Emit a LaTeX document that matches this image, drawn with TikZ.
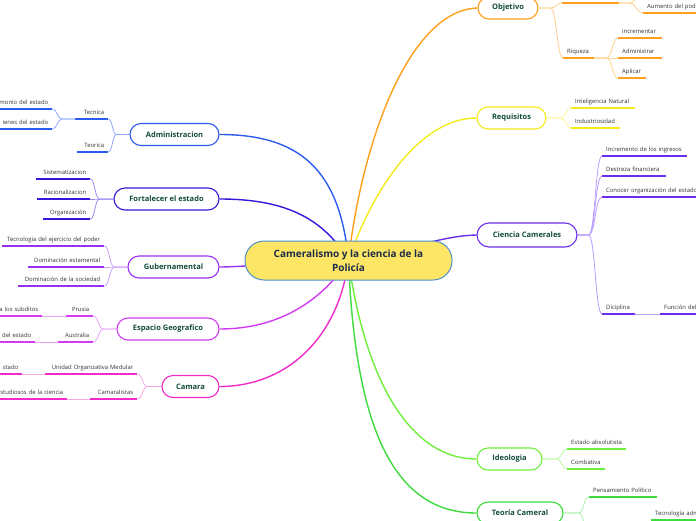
\documentclass[tikz,border=0pt]{standalone}
\usepackage{fontspec}
\setmainfont{Open Sans}
\usetikzlibrary{calc}
\pgfdeclarelayer{bg}
\pgfsetlayers{bg,main}
\definecolor{orng}{HTML}{FF9F1C}\definecolor{orngL}{HTML}{FFD08A}
\definecolor{yllw}{HTML}{F5EA1A}\definecolor{yllwL}{HTML}{FFF59A}
\definecolor{cienc}{HTML}{6B2EEB}\definecolor{ciencL}{HTML}{B89CFF}
\definecolor{admc}{HTML}{2C5BF0}\definecolor{admcL}{HTML}{8FA8FF}
\definecolor{fortc}{HTML}{3A14D8}\definecolor{fortcL}{HTML}{9D8CF0}
\definecolor{gubc}{HTML}{9A30F0}\definecolor{gubcL}{HTML}{CFA0FA}
\definecolor{espc}{HTML}{D13BF0}\definecolor{espcL}{HTML}{EBA5F8}
\definecolor{camc}{HTML}{F02BC8}\definecolor{camcL}{HTML}{F8A8E6}
\definecolor{ideo}{HTML}{6CF03C}\definecolor{ideoL}{HTML}{B8F8A0}
\definecolor{teor}{HTML}{3CDC3C}\definecolor{teorL}{HTML}{A8EEA8}
\definecolor{cborder}{HTML}{4E8FCB}\definecolor{cfill}{HTML}{FDE566}
\definecolor{tgreen}{HTML}{124B3B}\definecolor{ctext}{HTML}{1C2B4A}
\definecolor{leafgray}{HTML}{333333}
\tikzset{
  topic/.style={draw, line width=1.1pt, fill=white, rounded corners=11pt, minimum height=22pt,
    inner sep=0pt, font=\bfseries\fontsize{7.5}{8.5}\selectfont, text=tgreen},
  leaf/.style={font=\fontsize{5.9}{7}\selectfont, text=leafgray, inner xsep=4pt, inner ysep=1pt,
    text height=4.7pt, text depth=3pt},
  ul/.style={line width=1.3pt},
  mainconn/.style={line width=1.4pt},
  subconn/.style={line width=0.8pt},
  elbow/.style={to path={let \p1=(\tikztostart),\p2=(\tikztotarget) in
    .. controls ({(\x1+\x2)/2},\y1) and ({(\x1+\x2)/2},\y2) .. (\tikztotarget)}}
}
\newcommand\lf[7]{%
  \node[leaf, text width=(#3)-(#2)-8, align=#6, anchor=south west] (#1) at (#2,#4) {#7};
  \begin{pgfonlayer}{bg}\draw[ul, draw=#5] (#1.south west) -- (#1.south east);\end{pgfonlayer}}
\begin{document}
\begin{tikzpicture}[x=1pt,y=-1pt]
\useasboundingbox (0,0) rectangle (696,520);
% central
\node[draw=cborder, fill=cfill, line width=1pt, rounded corners=19pt, minimum width=207pt,
  minimum height=39pt, align=center, font=\bfseries\fontsize{10}{14}\selectfont, text=ctext]
  (C) at (348.5,260.5) {Cameralismo y la ciencia de la\\Policía};
% topics
\node[topic, draw=orng, minimum width=60pt] (obj) at (508,8) {Objetivo};
\node[topic, draw=yllw, minimum width=69pt] (req) at (511.5,118) {Requisitos};
\node[topic, draw=cienc, minimum width=100pt, minimum height=24pt, rounded corners=12pt] (cc) at (527,235) {Ciencia Camerales};
\node[topic, draw=ideo, minimum width=65pt] (ideol) at (509.5,459) {Ideologia};
\node[topic, draw=teor, minimum width=86pt] (teo) at (520,513) {Teoría Cameral};
\node[topic, draw=admc, minimum width=89pt] (adm) at (174.5,134.5) {Administracion};
\node[topic, draw=fortc, minimum width=105pt] (fort) at (166.5,199) {Fortalecer el estado};
\node[topic, draw=gubc, minimum width=91pt] (gub) at (173.5,267) {Gubernamental};
\node[topic, draw=espc, minimum width=102pt] (esp) at (168,329) {Espacio Geografico};
\node[topic, draw=camc, minimum width=57pt] (cam) at (190.5,386.5) {Camara};
% leaves: Objetivo
\lf{o1}{562}{619}{3}{orng}{left}{}
\lf{o11}{643}{760}{13}{orng}{left}{Aumento del pode}
\coordinate (o0) at (645,-12);
\lf{ri}{563}{594}{58}{orng}{left}{Riqueza}
\lf{ri1}{618}{662}{38}{orng}{left}{incrementar}
\lf{ri2}{618}{662}{58}{orng}{left}{Administrar}
\lf{ri3}{618}{646}{78}{orng}{left}{Aplicar}
% Requisitos
\lf{rq1}{571}{635}{108}{yllw}{left}{Inteligencia Natural}
\lf{rq2}{571}{620}{128}{yllw}{left}{Industriosidad}
% Ciencia Camerales
\lf{cc1}{602}{687}{156}{cienc}{left}{Incremento de los ingresos}
\lf{cc2}{602}{666}{176}{cienc}{left}{Destreza financiera}
\lf{cc3}{602}{760}{197}{cienc}{left}{Conocer organización del estado}
\lf{cc4}{602}{635}{314}{cienc}{left}{Diciplina}
\lf{cc41}{660}{760}{314}{cienc}{left}{Función del}
% Ideologia
\lf{id1}{567}{626}{449}{ideo}{left}{Estado absolutista}
\lf{id2}{567}{605}{469}{ideo}{left}{Combativa}
% Teoria Cameral
\lf{tc1}{589}{657}{497}{teor}{left}{Pensamiento Político}
\lf{tc2}{651}{760}{520}{teor}{left}{Tecnología adm}
\coordinate (tcx) at (592,545);
% Administracion
\lf{ad1}{75}{108}{119}{admc}{right}{Tecnica}
\lf{ad2}{77}{108}{152}{admc}{right}{Teorica}
\lf{ad11}{-40}{52}{109}{admc}{right}{monio del estado}
\lf{ad12}{-40}{52}{129}{admc}{right}{ienes del estado}
% Fortalecer
\lf{f1}{36}{90}{179}{fortc}{right}{Sistematizacion}
\lf{f2}{37}{90}{199}{fortc}{right}{Racionalizacion}
\lf{f3}{43}{90}{219}{fortc}{right}{Organización}
% Gubernamental
\lf{g1}{2}{104}{246}{gubc}{right}{Tecnologia del ejercicio del poder}
\lf{g2}{28}{104}{267}{gubc}{right}{Dominación estamental}
\lf{g3}{18}{104}{286}{gubc}{right}{Dominación de la sociedad}
% Espacio
\lf{e1}{66}{93}{316}{espc}{right}{Prusia}
\lf{e2}{58}{93}{342}{espc}{right}{Australia}
\lf{e11}{-40}{42}{316}{espc}{right}{a los súbditos}
\lf{e21}{-40}{35}{342}{espc}{right}{del estado}
% Camara
\lf{k1}{45}{137}{374}{camc}{right}{Unidad Organizativa Medular}
\lf{k2}{90}{137}{399}{camc}{right}{Camaralistas}
\lf{k11}{-40}{22}{374}{camc}{right}{stado}
\lf{k21}{-40}{67}{399}{camc}{right}{studiosos de la ciencia}
\begin{pgfonlayer}{bg}
% main connectors
\draw[mainconn, orng] (C.center) .. controls (362,140) and (410,10) .. (obj.west);
\draw[mainconn, yllw] (C.center) .. controls (372,190) and (420,118) .. (req.west);
\draw[mainconn, cienc] (C.center) .. controls (410,250) and (440,236) .. (cc.west);
\draw[mainconn, ideo] (C.center) .. controls (365,380) and (410,459) .. (ideol.west);
\draw[mainconn, teor] (C.center) .. controls (355,420) and (390,513) .. (teo.west);
\draw[mainconn, admc] (C.center) .. controls (340,170) and (300,134.5) .. (adm.east);
\draw[mainconn, fortc] (C.center) .. controls (322,215) and (280,199) .. (fort.east);
\draw[mainconn, gubc] (C.center) .. controls (300,262) and (240,267) .. (gub.east);
\draw[mainconn, espc] (C.center) .. controls (322,300) and (280,329) .. (esp.east);
\draw[mainconn, camc] (C.center) .. controls (338,340) and (285,386.5) .. (cam.east);
% sub connectors right
\draw[subconn, orngL] (obj.east) -- ++(12,0) to[elbow] (o1.south west);
\draw[subconn, orngL] (obj.east) -- ++(12,0) to[elbow] (ri.south west);
\draw[subconn, orngL] (o1.south east) -- ++(10,0) to[elbow] (o11.south west);
\draw[subconn, orngL] (o1.south east) -- ++(10,0) to[elbow] (o0);
\draw[subconn, orngL] (ri.south east) -- ++(12,0) to[elbow] (ri1.south west);
\draw[subconn, orngL] (ri.south east) -- ++(12,0) to[elbow] (ri2.south west);
\draw[subconn, orngL] (ri.south east) -- ++(12,0) to[elbow] (ri3.south west);
\draw[subconn, yllwL] (req.east) -- ++(14,0) to[elbow] (rq1.south west);
\draw[subconn, yllwL] (req.east) -- ++(14,0) to[elbow] (rq2.south west);
\draw[subconn, ciencL] (cc.east) -- ++(11,0) to[elbow] (cc1.south west);
\draw[subconn, ciencL] (cc.east) -- ++(11,0) to[elbow] (cc2.south west);
\draw[subconn, ciencL] (cc.east) -- ++(11,0) to[elbow] (cc3.south west);
\draw[subconn, ciencL] (cc.east) -- ++(11,0) to[elbow] (cc4.south west);
\draw[subconn, ciencL] (cc4.south east) -- (cc41.south west);
\draw[subconn, ideoL] (ideol.east) -- ++(14,0) to[elbow] (id1.south west);
\draw[subconn, ideoL] (ideol.east) -- ++(14,0) to[elbow] (id2.south west);
\draw[subconn, teorL] (teo.east) -- ++(15,0) to[elbow] (tc1.south west);
\draw[subconn, teorL] (teo.east) -- ++(15,0) to[elbow] (tcx);
% sub connectors left
\draw[subconn, admcL] (adm.west) -- ++(-13,0) to[elbow] (ad1.south east);
\draw[subconn, admcL] (adm.west) -- ++(-13,0) to[elbow] (ad2.south east);
\draw[subconn, admcL] (ad1.south west) -- ++(-13,0) to[elbow] (ad11.south east);
\draw[subconn, admcL] (ad1.south west) -- ++(-13,0) to[elbow] (ad12.south east);
\draw[subconn, fortcL] (fort.west) -- ++(-14,0) to[elbow] (f1.south east);
\draw[subconn, fortcL] (fort.west) -- ++(-14,0) to[elbow] (f2.south east);
\draw[subconn, fortcL] (fort.west) -- ++(-14,0) to[elbow] (f3.south east);
\draw[subconn, gubcL] (gub.west) -- ++(-13,0) to[elbow] (g1.south east);
\draw[subconn, gubcL] (gub.west) -- ++(-13,0) to[elbow] (g2.south east);
\draw[subconn, gubcL] (gub.west) -- ++(-13,0) to[elbow] (g3.south east);
\draw[subconn, espcL] (esp.west) -- ++(-13,0) to[elbow] (e1.south east);
\draw[subconn, espcL] (esp.west) -- ++(-13,0) to[elbow] (e2.south east);
\draw[subconn, espcL] (e1.south west) -- (e11.south east);
\draw[subconn, espcL] (e2.south west) -- (e21.south east);
\draw[subconn, camcL] (cam.west) -- ++(-14,0) to[elbow] (k1.south east);
\draw[subconn, camcL] (cam.west) -- ++(-14,0) to[elbow] (k2.south east);
\draw[subconn, camcL] (k1.south west) -- (k11.south east);
\draw[subconn, camcL] (k2.south west) -- (k21.south east);
\end{pgfonlayer}
\end{tikzpicture}
\end{document}
